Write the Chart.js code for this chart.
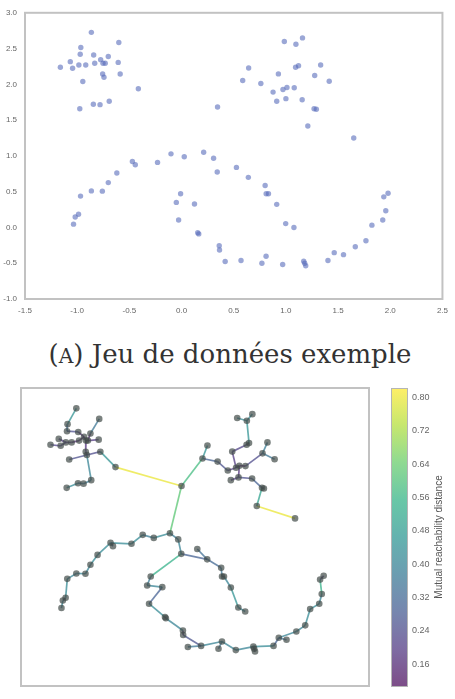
<!DOCTYPE html>
<html>
<head>
<meta charset="utf-8">
<script src="https://cdn.jsdelivr.net/npm/chart.js@4"></script>
<style>
  body { margin: 0; background: #fff; width: 455px; height: 699px; position: relative; overflow: hidden; }
  #top { position: absolute; left: 0; top: 0; }
  #bottom { position: absolute; left: 0; top: 380px; }
  #caption {
    position: absolute; left: 0; width: 460px; top: 339px; text-align: center;
    font-family: "DejaVu Serif", "Liberation Serif", serif; font-size: 26px; color: #333;
  }
  #caption .sc { font-size: 0.78em; }
</style>
</head>
<body>
<canvas id="top" width="455" height="320"></canvas>
<div id="caption">(<span class="sc">A</span>) Jeu de données exemple</div>
<canvas id="bottom" width="455" height="319"></canvas>
<script>
// points (same data set in both panels)
const ptX = [
  -1.161, -1.066, -1.044, -0.984, -0.965, -0.971, -0.918, -0.864, -0.946, -0.842,
  -0.832, -0.775, -0.753, -0.731, -0.702, -0.756, -0.743, -0.601, -0.607, -0.588,
  -0.414, -0.975, -0.845, -0.781, -0.693,
  0.345,
  0.985, 1.096, 1.159, 0.643, 0.586, 0.760, 0.928, 1.093, 1.121, 1.333,
  1.276, 1.415, 0.877, 0.972, 1.010, 1.080, 0.912, 1.000, 1.156, 1.292,
  1.270, 1.210, 1.650,
  -1.035, -1.019, -0.987, -0.968, -0.864, -0.759, -0.702, -0.620, -0.471, -0.443,
  -0.230, -0.101, 0.026, 0.212, 0.307, 0.342, 0.526, 0.640, 0.801, 0.811,
  0.833, 0.912, 0.998, 1.077,
  -0.009, -0.050, 0.124, -0.028, 0.155, 0.165, 0.361, 0.364, 0.418, 0.570,
  0.770, 0.810, 0.969, 1.171, 1.180, 1.190, 1.403, 1.463, 1.552, 1.665,
  1.767, 1.824, 1.928, 1.957, 1.938, 1.979
];
const ptY = [
  2.238, 2.317, 2.224, 2.270, 2.515, 2.420, 2.270, 2.727, 2.040, 2.410,
  2.294, 2.345, 2.294, 2.294, 2.390, 2.145, 2.100, 2.585, 2.307, 2.145,
  1.938, 1.660, 1.722, 1.716, 1.763,
  1.684,
  2.598, 2.561, 2.649, 2.229, 2.054, 2.012, 2.146, 2.238, 2.261, 2.270,
  2.123, 2.044, 1.892, 1.929, 1.957, 1.952, 1.763, 1.800, 1.785, 1.652,
  1.660, 1.417, 1.250,
  0.046, 0.147, 0.184, 0.438, 0.511, 0.507, 0.627, 0.760, 0.922, 0.877,
  0.909, 1.029, 0.988, 1.051, 0.968, 0.774, 0.839, 0.700, 0.586, 0.470,
  0.470, 0.323, 0.054, 0.000,
  0.470, 0.350, 0.327, 0.105, -0.075, -0.090, -0.255, -0.315, -0.476, -0.462,
  -0.500, -0.403, -0.518, -0.472, -0.500, -0.536, -0.462, -0.352, -0.380, -0.269,
  -0.186, 0.032, 0.105, 0.234, 0.428, 0.479
];

// minimum spanning tree edges: endpoints and mutual reachability distance
const edgeA = [
  7, 4, 5, 9, 10, 11, 12, 13, 14, 13, 6, 3, 2, 1, 0, 12, 15, 16, 16, 19, 16, 24, 23, 22,
  20, 25, 25,
  26, 28, 27, 34, 33, 32, 39, 40, 38, 35, 36, 36, 42, 43, 43, 44, 46, 46, 47, 29, 30, 31,
  49, 50, 51, 52, 53, 54, 55, 56, 57, 57, 59, 60, 61, 62, 63, 64, 65, 66, 67, 68, 69, 70, 71,
  64, 73, 74, 75, 76, 77, 78, 79, 80, 81, 82, 84, 84, 85, 86, 87, 86, 89, 90, 90, 92, 93, 94, 95, 96, 97
];
const edgeB = [
  4, 5, 9, 11, 11, 12, 13, 14, 17, 18, 10, 6, 3, 3, 2, 15, 16, 8, 19, 20, 24, 23, 22, 21,
  25, 30, 62,
  27, 27, 34, 33, 32, 39, 40, 41, 39, 36, 37, 41, 43, 40, 44, 46, 45, 47, 48, 30, 31, 38,
  50, 51, 52, 53, 54, 55, 56, 57, 58, 59, 60, 61, 62, 63, 64, 66, 66, 67, 68, 69, 70, 71, 72,
  73, 74, 75, 76, 77, 78, 79, 80, 82, 82, 84, 83, 85, 86, 87, 88, 89, 90, 91, 92, 93, 94, 95, 96, 97, 98
];
const edgeDist = [
  0.45, 0.33, 0.25, 0.16, 0.14, 0.13, 0.13, 0.15, 0.36, 0.20, 0.16, 0.18, 0.20, 0.20, 0.22, 0.18, 0.15, 0.25, 0.24, 0.45, 0.40, 0.38, 0.36, 0.42,
  0.80, 0.58, 0.62,
  0.42, 0.42, 0.45, 0.15, 0.22, 0.20, 0.13, 0.13, 0.20, 0.38, 0.36, 0.24, 0.20, 0.18, 0.25, 0.30, 0.20, 0.50, 0.80, 0.45, 0.30, 0.26,
  0.40, 0.32, 0.42, 0.40, 0.40, 0.40, 0.42, 0.42, 0.28, 0.42, 0.42, 0.38, 0.42, 0.38, 0.40, 0.30, 0.34, 0.32, 0.36, 0.20, 0.40, 0.45, 0.40,
  0.55, 0.38, 0.40, 0.30, 0.42, 0.12, 0.40, 0.16, 0.26, 0.36, 0.40, 0.36, 0.40, 0.40, 0.15, 0.15, 0.42, 0.30, 0.34, 0.40, 0.40, 0.42, 0.42, 0.40, 0.55, 0.20
];

const xTicks = [-1.5, -1.0, -0.5, 0.0, 0.5, 1.0, 1.5, 2.0, 2.5];
const yTicks = [-1.0, -0.5, 0.0, 0.5, 1.0, 1.5, 2.0, 2.5, 3.0];
const cbTicks = [0.16, 0.24, 0.32, 0.40, 0.48, 0.56, 0.64, 0.72, 0.80];
const cbMin = 0.108, cbMax = 0.823;

// viridis colour stops
const viridis = ['#440154', '#472d7b', '#3b528b', '#2c728e', '#21918c', '#28ae80', '#5ec962', '#addc30', '#fde725'];

function hexRgb(h) {
  return [parseInt(h.slice(1, 3), 16), parseInt(h.slice(3, 5), 16), parseInt(h.slice(5, 7), 16)];
}
function cmap(t, alpha) {
  t = Math.min(1, Math.max(0, t));
  const p = t * (viridis.length - 1);
  const i = Math.min(viridis.length - 2, Math.floor(p));
  const f = p - i;
  const a = hexRgb(viridis[i]), b = hexRgb(viridis[i + 1]);
  const c = a.map((v, k) => Math.round(v + (b[k] - v) * f));
  return `rgba(${c[0]},${c[1]},${c[2]},${alpha})`;
}

const points = ptX.map((x, i) => ({ x: x, y: ptY[i] }));

const framePlugin = {
  id: 'frame',
  afterDraw(chart) {
    const { ctx, chartArea: a } = chart;
    ctx.save();
    ctx.strokeStyle = '#c2c2c2';
    ctx.lineWidth = 2;
    ctx.strokeRect(a.left, a.top, a.right - a.left, a.bottom - a.top);
    ctx.restore();
  }
};

const tickFont = { family: 'Liberation Sans, Arial, sans-serif', size: 8 };

// top panel: raw data
new Chart(document.getElementById('top'), {
  type: 'scatter',
  data: {
    datasets: [{
      data: points,
      pointRadius: 2.7,
      pointBorderWidth: 0,
      backgroundColor: 'rgba(82, 104, 184, 0.58)'
    }]
  },
  options: {
    responsive: false,
    animation: false,
    events: [],
    layout: { padding: { top: 10, right: 7, left: 0, bottom: 0 } },
    plugins: { legend: { display: false }, tooltip: { enabled: false } },
    scales: {
      x: {
        min: -1.5, max: 2.5,
        afterBuildTicks: s => { s.ticks = xTicks.map(v => ({ value: v })); },
        afterFit: s => { s.height = 21; },
        grid: { display: false, drawTicks: false },
        border: { display: false },
        ticks: { font: tickFont, color: '#666', padding: 7, maxRotation: 0, callback: v => v.toFixed(1) }
      },
      y: {
        min: -1, max: 3,
        afterBuildTicks: s => { s.ticks = yTicks.map(v => ({ value: v })); },
        afterFit: s => { s.width = 25; },
        grid: { display: false, drawTicks: false },
        border: { display: false },
        ticks: { font: tickFont, color: '#666', padding: 8, callback: v => v.toFixed(1) }
      }
    }
  },
  plugins: [framePlugin]
});

// bottom panel: minimum spanning tree + colorbar
const colorbarPlugin = {
  id: 'colorbar',
  afterDraw(chart) {
    const s = chart.scales.c;
    const ctx = chart.ctx;
    const top = s.getPixelForValue(cbMax);
    const bot = s.getPixelForValue(cbMin);
    const x0 = s.left + 22, w = 16;
    const g = ctx.createLinearGradient(0, bot, 0, top);
    for (let k = 0; k <= 32; k++) g.addColorStop(k / 32, cmap(k / 32, 1));
    ctx.save();
    ctx.globalAlpha = 0.7;
    ctx.fillStyle = g;
    ctx.fillRect(x0, top, w, bot - top);
    ctx.globalAlpha = 1;
    ctx.strokeStyle = '#b5b5b5';
    ctx.lineWidth = 1;
    ctx.strokeRect(x0 + 0.5, top + 0.5, w, bot - top);
    ctx.translate(s.left + 70, (top + bot) / 2);
    ctx.rotate(-Math.PI / 2);
    ctx.fillStyle = '#555';
    ctx.font = '10px "Liberation Sans", Arial, sans-serif';
    ctx.textAlign = 'center';
    ctx.textBaseline = 'middle';
    ctx.fillText('Mutual reachability distance', 0, 0);
    ctx.restore();
  }
};

const edgeSets = edgeA.map((a, i) => ({
  data: [points[a], points[edgeB[i]]],
  showLine: true,
  borderColor: cmap((edgeDist[i] - cbMin) / (cbMax - cbMin), 0.7),
  borderWidth: 1.7,
  pointRadius: 0
}));

new Chart(document.getElementById('bottom'), {
  type: 'scatter',
  data: {
    datasets: [{
      data: points,
      pointRadius: 3.3,
      pointBorderWidth: 0,
      backgroundColor: 'rgba(66, 76, 72, 0.7)'
    }].concat(edgeSets)
  },
  options: {
    responsive: false,
    animation: false,
    events: [],
    layout: { padding: { top: 8, right: 0, left: 21, bottom: 13 } },
    plugins: { legend: { display: false }, tooltip: { enabled: false } },
    scales: {
      x: { min: -1.5, max: 2.5, display: false },
      y: { min: -1, max: 3, display: false },
      c: {
        type: 'linear',
        position: 'right',
        min: cbMin, max: cbMax,
        afterBuildTicks: s => { s.ticks = cbTicks.map(v => ({ value: v })); },
        afterFit: s => { s.width = 86; },
        grid: { display: false, drawTicks: true, tickLength: 42 },
        border: { display: false },
        ticks: { font: { family: 'Liberation Sans, Arial, sans-serif', size: 9 }, color: '#666', padding: 1, callback: v => v.toFixed(2) }
      }
    }
  },
  plugins: [framePlugin, colorbarPlugin]
});
</script>
</body>
</html>
